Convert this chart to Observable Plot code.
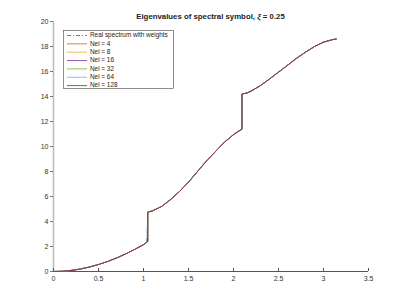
<!DOCTYPE html>
<html><head><meta charset="utf-8">
<script src="https://cdn.jsdelivr.net/npm/d3@7"></script>
<script src="https://cdn.jsdelivr.net/npm/@observablehq/plot@0.6"></script>
<style>body{margin:0;background:#fff}</style></head>
<body><div id="c"></div>
<script>
const titleText = "Eigenvalues of spectral symbol, ";
const xTicks = [0, 0.5, 1, 1.5, 2, 2.5, 3, 3.5];
const yTicks = [0, 2, 4, 6, 8, 10, 12, 14, 16, 18, 20];
const seriesNames = ["Real spectrum with weights", "Nel = 4", "Nel = 8", "Nel = 16", "Nel = 32", "Nel = 64", "Nel = 128"];
const seriesColors = ["#0072bd", "#d95319", "#edb120", "#7e2f8e", "#77ac30", "#4dbeee", "#a2142f"];
// symbol curve (three branches with jumps at pi/3 and 2pi/3)
const curveX = [0, 0.1, 0.2, 0.3, 0.4, 0.5, 0.6, 0.7, 0.8, 0.9, 1.0, 1.047,
                1.047, 1.1, 1.2, 1.3, 1.4, 1.5, 1.6, 1.7, 1.8, 1.9, 2.0, 2.05, 2.094,
                2.094, 2.15, 2.2, 2.3, 2.4, 2.5, 2.6, 2.7, 2.8, 2.9, 3.0, 3.1, 3.1416];
const curveY = [0, 0.02, 0.09, 0.2, 0.36, 0.56, 0.8, 1.08, 1.4, 1.76, 2.15, 2.4,
                4.75, 4.85, 5.2, 5.75, 6.4, 7.15, 8.0, 8.85, 9.6, 10.35, 10.95, 11.2, 11.38,
                14.2, 14.28, 14.45, 14.88, 15.4, 15.95, 16.5, 17.05, 17.55, 18.0, 18.35, 18.55, 18.6];
// real spectrum: same curve with a few intermediate eigenvalues at the first gap
const realX = [0, 0.1, 0.2, 0.3, 0.4, 0.5, 0.6, 0.7, 0.8, 0.9, 1.0, 1.035, 1.039, 1.042, 1.045,
               1.047, 1.1, 1.2, 1.3, 1.4, 1.5, 1.6, 1.7, 1.8, 1.9, 2.0, 2.05, 2.094,
               2.094, 2.15, 2.2, 2.3, 2.4, 2.5, 2.6, 2.7, 2.8, 2.9, 3.0, 3.1, 3.1416];
const realY = [0, 0.02, 0.09, 0.2, 0.36, 0.56, 0.8, 1.08, 1.4, 1.76, 2.15, 2.38, 2.9, 3.5, 4.1,
               4.75, 4.85, 5.2, 5.75, 6.4, 7.15, 8.0, 8.85, 9.6, 10.35, 10.95, 11.2, 11.38,
               14.2, 14.28, 14.45, 14.88, 15.4, 15.95, 16.5, 17.05, 17.55, 18.0, 18.35, 18.55, 18.6];

const realRows = realX.map((x, i) => ({x, y: realY[i], series: seriesNames[0]}));
const nelRows = [];
seriesNames.slice(1).forEach(s => curveX.forEach((x, i) => nelRows.push({x, y: curveY[i], series: s})));

const chart = Plot.plot({
  width: 407, height: 305,
  marginLeft: 53, marginRight: 39, marginTop: 21, marginBottom: 34,
  x: {domain: [0, 3.5], label: null},
  y: {domain: [0, 20], label: null},
  color: {domain: seriesNames, range: seriesColors},
  style: {fontFamily: "'Liberation Sans', Arial, sans-serif", fontSize: "7px", color: "#333", background: "#fff"},
  marks: [
    Plot.ruleX([0], {stroke: "#bbb", strokeWidth: 1.5}),
    Plot.ruleY([0], {stroke: "#555"}),
    Plot.axisY({ticks: yTicks, tickSize: 3, tickPadding: 2, tickFormat: d => String(d), stroke: "#777", label: null}),
    Plot.axisX({ticks: xTicks, tickSize: 0, tickPadding: 5, tickFormat: d => String(d), label: null}),
    Plot.ruleX(xTicks, {x: d => d, insetTop: 247, stroke: "#555"}),
    Plot.line(realRows, {x: "x", y: "y", stroke: "series", strokeWidth: 0.8, strokeDasharray: "4,2,1,2"}),
    Plot.line(nelRows, {x: "x", y: "y", z: "series", stroke: "series", strokeWidth: 0.8})
  ]
});
document.getElementById("c").appendChild(chart);

const svg = d3.select(chart);
const t = svg.append("text").attr("x", 210.5).attr("y", 17).attr("text-anchor", "middle")
  .attr("dominant-baseline", "middle").attr("font-weight", "bold").attr("font-size", 7.8).attr("fill", "#222");
t.append("tspan").text(titleText);
t.append("tspan").attr("font-style", "italic").text("ξ");
t.append("tspan").text(" = 0.25");

const lg = svg.append("g");
lg.append("rect").attr("x", 63.5).attr("y", 30.5).attr("width", 110).attr("height", 58)
  .attr("fill", "#fff").attr("stroke", "#444").attr("stroke-width", 0.6);
seriesNames.forEach((name, i) => {
  const yy = 35.5 + i * 8.35;
  lg.append("line").attr("x1", 67).attr("x2", 87).attr("y1", yy).attr("y2", yy)
    .attr("stroke", seriesColors[i]).attr("stroke-width", 0.8)
    .attr("stroke-dasharray", i === 0 ? "4,2,1,2" : null);
  lg.append("text").attr("x", 90).attr("y", yy).attr("dominant-baseline", "middle")
    .attr("text-anchor", "start")
    .attr("font-size", 6.4).attr("fill", "#222").text(name);
});
</script>
</body></html>
